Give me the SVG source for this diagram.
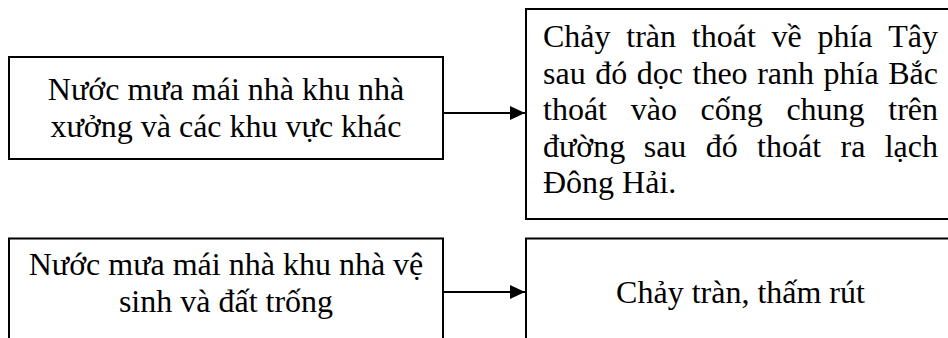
<svg xmlns="http://www.w3.org/2000/svg" width="948" height="338" viewBox="0 0 948 338">
<style>
.box{fill:#fff;stroke:#000;stroke-width:2}
.t{font-family:"Liberation Serif","Times New Roman",serif;font-size:32px;fill:#000}
.c{text-anchor:middle}
.e{text-anchor:end}
.conn{stroke:#000;stroke-width:2;fill:none}
</style>
<defs>
<marker id="arrow" markerWidth="15" markerHeight="14" refX="15" refY="7" orient="auto" markerUnits="userSpaceOnUse">
<path d="M0,0 L15,7 L0,14 z" fill="#000"/>
</marker>
</defs>
<rect width="948" height="338" fill="#fff"/>
<g id="node-src1">
<rect class="box" x="9" y="57" width="434" height="102"/>
<text class="t c" x="226" y="100">Nước mưa mái nhà khu nhà</text>
<text class="t c" x="226" y="137">xưởng và các khu vực khác</text>
</g>
<g id="node-dst1">
<rect class="box" x="526" y="9" width="440" height="210"/>
<text class="t" y="47"><tspan x="543">Chảy</tspan><tspan x="626.3">tràn</tspan><tspan x="691.8">thoát</tspan><tspan x="771.5">về</tspan><tspan x="817.4">phía</tspan></text>
<text class="t e" x="938" y="47">Tây</text>
<text class="t" y="83.6"><tspan x="543">sau</tspan><tspan x="595.2">đó</tspan><tspan x="636.8">dọc</tspan><tspan x="692.5">theo</tspan><tspan x="757.2">ranh</tspan><tspan x="823.6">phía</tspan></text>
<text class="t e" x="938" y="83.6">Bắc</text>
<text class="t" y="120.2"><tspan x="543">thoát</tspan><tspan x="630.7">vào</tspan><tspan x="700.5">cống</tspan><tspan x="786.4">chung</tspan></text>
<text class="t e" x="938" y="120.2">trên</text>
<text class="t" y="156.8"><tspan x="543">đường</tspan><tspan x="643.7">sau</tspan><tspan x="705.7">đó</tspan><tspan x="757.1">thoát</tspan><tspan x="840.5">ra</tspan></text>
<text class="t e" x="938" y="156.8">lạch</text>
<text class="t" x="543" y="193.4">Đông Hải.</text>
</g>
<g id="node-src2">
<rect class="box" x="9" y="238.5" width="434" height="130"/>
<text class="t c" x="226" y="275">Nước mưa mái nhà khu nhà vệ</text>
<text class="t c" x="226" y="311.7">sinh và đất trống</text>
</g>
<g id="node-dst2">
<rect class="box" x="526" y="238.5" width="440" height="130"/>
<text class="t c" x="740.5" y="303">Chảy tràn, thấm rút</text>
</g>
<g id="connectors">
<line class="conn" x1="443" y1="113" x2="525" y2="113" marker-end="url(#arrow)"/>
<line class="conn" x1="443" y1="292" x2="525" y2="292" marker-end="url(#arrow)"/>
</g>
</svg>
